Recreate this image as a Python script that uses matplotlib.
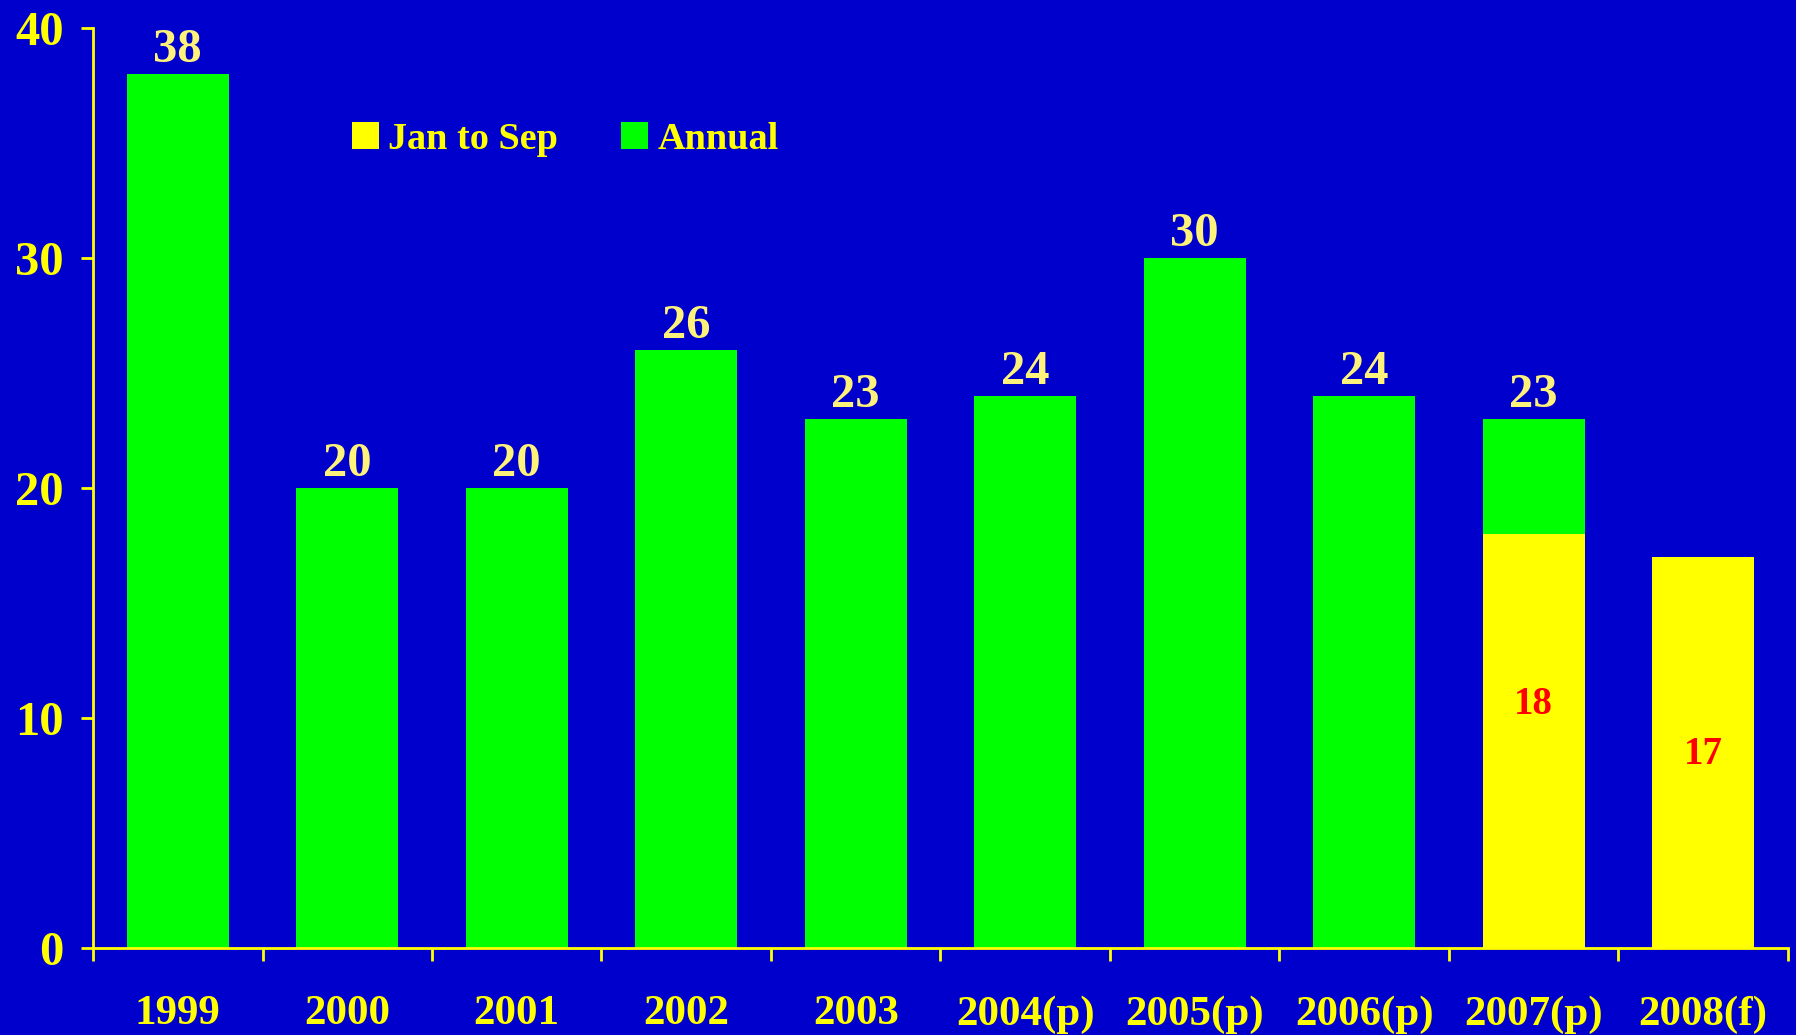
import numpy as np
import matplotlib
matplotlib.use('Agg')
import matplotlib.pyplot as plt

# data
years = ['1999', '2000', '2001', '2002', '2003', '2004(p)', '2005(p)',
         '2006(p)', '2007(p)', '2008(f)']
annual = [38, 20, 20, 26, 23, 24, 30, 24, 23, np.nan]
jan_sep = [np.nan] * 8 + [18, 17]

bg = '#0000CC'
yellow = '#FFFF00'
green = '#00FF00'
label_col = '#FFF27A'

plt.rcParams['font.family'] = ['Liberation Serif', 'DejaVu Serif']
plt.rcParams['font.weight'] = 'bold'

fig = plt.figure(figsize=(17.96, 10.35), dpi=100, facecolor=bg)
ax = fig.add_axes([0.0518, 0.084, 0.9437, 0.889])
ax.set_facecolor(bg)

x = np.arange(len(years))
js = np.nan_to_num(jan_sep)
ann = np.array(annual, dtype=float)

ax.bar(x, js, width=0.6, color=yellow, label='Jan to Sep', zorder=2)
# annual bars stacked on top of jan-sep where both exist
ax.bar(x, np.where(np.isnan(ann), 0, ann - js), bottom=js, width=0.6,
       color=green, label='Annual', zorder=2)

for i, v in enumerate(annual):
    if not np.isnan(v):
        ax.text(x[i], v + 0.1, '%d' % v, ha='center', va='bottom',
                color=label_col, fontsize=35, fontweight='bold')

# red labels inside the yellow bars
in_y = {8: 10.6, 9: 8.4}
for i, v in enumerate(jan_sep):
    if not np.isnan(v):
        ax.text(x[i], in_y[i], '%d' % v, ha='center', va='center',
                color='#FF0000', fontsize=28, fontweight='bold')

ax.set_xlim(-0.5, len(years) - 0.5)
ax.set_ylim(0, 40)
ax.set_yticks([0, 10, 20, 30, 40])
ax.set_xticks(x)
ax.set_xticklabels(years)
ax.set_xticks(np.arange(-0.5, len(years)), minor=True)

for s in ['top', 'right']:
    ax.spines[s].set_visible(False)
for s in ['left', 'bottom']:
    ax.spines[s].set_color(yellow)
    ax.spines[s].set_linewidth(2)

ax.tick_params(axis='x', which='major', length=0, pad=34,
               labelsize=31, labelcolor=yellow)
ax.tick_params(axis='x', which='minor', length=9, width=2,
               color=yellow, direction='out')
ax.tick_params(axis='y', length=9, width=2, color=yellow, direction='out',
               pad=12, labelsize=35, labelcolor=yellow)

leg = ax.legend(loc='upper left', bbox_to_anchor=(0.1325, 0.935), ncol=2,
                frameon=False, fontsize=27.5, labelcolor=yellow,
                handlelength=0.7, handleheight=0.7, handletextpad=0.25,
                columnspacing=1.65)

fig.savefig('out.png', dpi=100, facecolor=bg)
